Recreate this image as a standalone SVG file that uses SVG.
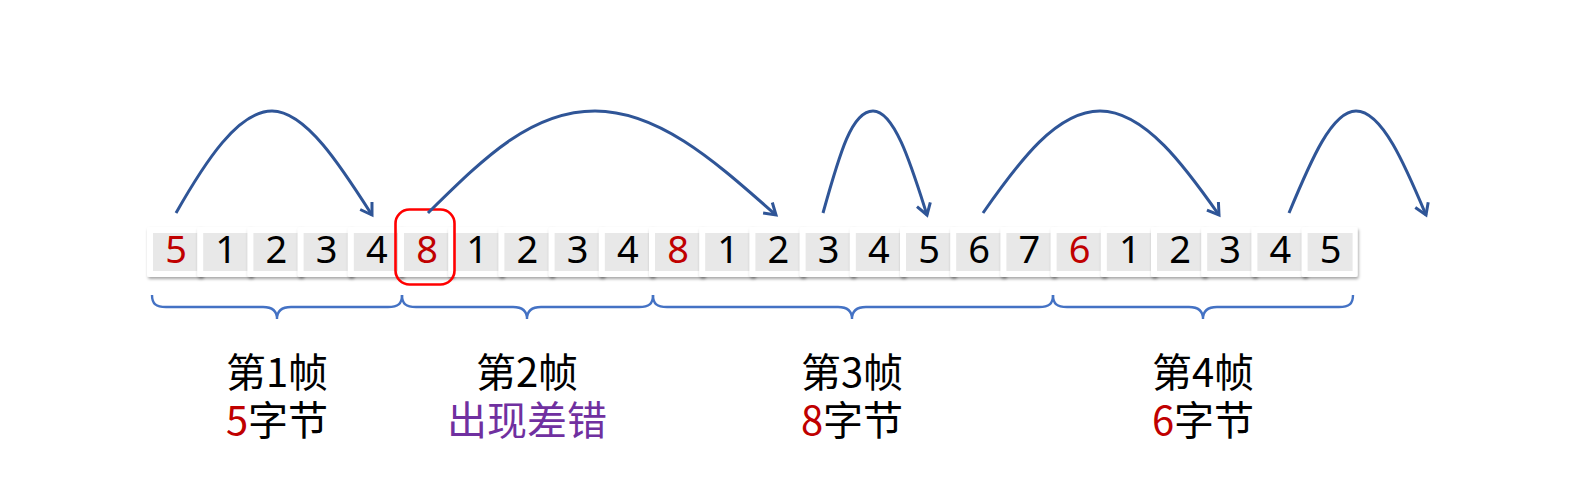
<svg xmlns="http://www.w3.org/2000/svg" width="1578" height="502" viewBox="0 0 1578 502">
<style>
.cell rect.o{fill:#fff;filter:url(#sh)}
.cell rect.i{fill:#e8e8e8}
.cell text{font-family:"Noto Sans","Open Sans","Liberation Sans",sans-serif;font-size:38px;text-anchor:middle;fill:#000}
.cell text.r{fill:#c00000}
.arc{fill:none;stroke:#2f5597;stroke-width:3;marker-end:url(#ah)}
.brace{fill:none;stroke:#4472c4;stroke-width:2.4}
.lbl{font-family:"Noto Sans CJK SC","Noto Sans",sans-serif;font-size:40px;text-anchor:middle;fill:#000}
.red{fill:#c00000}
.pur{fill:#7030a0}
</style>
<defs>
<filter id="sh" x="-20%" y="-20%" width="140%" height="150%">
<feDropShadow dx="1" dy="2" stdDeviation="1.6" flood-color="#000" flood-opacity="0.35"/>
</filter>
<marker id="ah" markerUnits="userSpaceOnUse" markerWidth="30" markerHeight="30" refX="15" refY="15" orient="auto" viewBox="0 0 30 30">
<path d="M4,8 L15,15 L4,22" fill="none" stroke="#2f5597" stroke-width="3" stroke-linejoin="miter"/>
</marker>
</defs>
<rect width="1578" height="502" fill="#fff"/>
<g id="cells">
<g class="cell" id="c0"><rect class="o" x="147" y="227" width="56" height="50" rx="2"/><rect class="i" x="153" y="233" width="45" height="38"/><text class="r" x="176" y="263">5</text></g>
<g class="cell" id="c1"><rect class="o" x="197.2" y="227" width="56" height="50" rx="2"/><rect class="i" x="203.2" y="233" width="45" height="38"/><text x="226.2" y="263">1</text></g>
<g class="cell" id="c2"><rect class="o" x="247.4" y="227" width="56" height="50" rx="2"/><rect class="i" x="253.4" y="233" width="45" height="38"/><text x="276.4" y="263">2</text></g>
<g class="cell" id="c3"><rect class="o" x="297.6" y="227" width="56" height="50" rx="2"/><rect class="i" x="303.6" y="233" width="45" height="38"/><text x="326.6" y="263">3</text></g>
<g class="cell" id="c4"><rect class="o" x="347.8" y="227" width="56" height="50" rx="2"/><rect class="i" x="353.8" y="233" width="45" height="38"/><text x="376.8" y="263">4</text></g>
<g class="cell" id="c5"><rect class="o" x="398" y="227" width="56" height="50" rx="2"/><rect class="i" x="404" y="233" width="45" height="38"/><text class="r" x="427" y="263">8</text></g>
<g class="cell" id="c6"><rect class="o" x="448.2" y="227" width="56" height="50" rx="2"/><rect class="i" x="454.2" y="233" width="45" height="38"/><text x="477.2" y="263">1</text></g>
<g class="cell" id="c7"><rect class="o" x="498.4" y="227" width="56" height="50" rx="2"/><rect class="i" x="504.4" y="233" width="45" height="38"/><text x="527.4" y="263">2</text></g>
<g class="cell" id="c8"><rect class="o" x="548.6" y="227" width="56" height="50" rx="2"/><rect class="i" x="554.6" y="233" width="45" height="38"/><text x="577.6" y="263">3</text></g>
<g class="cell" id="c9"><rect class="o" x="598.8" y="227" width="56" height="50" rx="2"/><rect class="i" x="604.8" y="233" width="45" height="38"/><text x="627.8" y="263">4</text></g>
<g class="cell" id="c10"><rect class="o" x="649" y="227" width="56" height="50" rx="2"/><rect class="i" x="655" y="233" width="45" height="38"/><text class="r" x="678" y="263">8</text></g>
<g class="cell" id="c11"><rect class="o" x="699.2" y="227" width="56" height="50" rx="2"/><rect class="i" x="705.2" y="233" width="45" height="38"/><text x="728.2" y="263">1</text></g>
<g class="cell" id="c12"><rect class="o" x="749.4" y="227" width="56" height="50" rx="2"/><rect class="i" x="755.4" y="233" width="45" height="38"/><text x="778.4" y="263">2</text></g>
<g class="cell" id="c13"><rect class="o" x="799.6" y="227" width="56" height="50" rx="2"/><rect class="i" x="805.6" y="233" width="45" height="38"/><text x="828.6" y="263">3</text></g>
<g class="cell" id="c14"><rect class="o" x="849.8" y="227" width="56" height="50" rx="2"/><rect class="i" x="855.8" y="233" width="45" height="38"/><text x="878.8" y="263">4</text></g>
<g class="cell" id="c15"><rect class="o" x="900" y="227" width="56" height="50" rx="2"/><rect class="i" x="906" y="233" width="45" height="38"/><text x="929" y="263">5</text></g>
<g class="cell" id="c16"><rect class="o" x="950.2" y="227" width="56" height="50" rx="2"/><rect class="i" x="956.2" y="233" width="45" height="38"/><text x="979.2" y="263">6</text></g>
<g class="cell" id="c17"><rect class="o" x="1000.4" y="227" width="56" height="50" rx="2"/><rect class="i" x="1006.4" y="233" width="45" height="38"/><text x="1029.4" y="263">7</text></g>
<g class="cell" id="c18"><rect class="o" x="1050.6" y="227" width="56" height="50" rx="2"/><rect class="i" x="1056.6" y="233" width="45" height="38"/><text class="r" x="1079.6" y="263">6</text></g>
<g class="cell" id="c19"><rect class="o" x="1100.8" y="227" width="56" height="50" rx="2"/><rect class="i" x="1106.8" y="233" width="45" height="38"/><text x="1129.8" y="263">1</text></g>
<g class="cell" id="c20"><rect class="o" x="1151" y="227" width="56" height="50" rx="2"/><rect class="i" x="1157" y="233" width="45" height="38"/><text x="1180" y="263">2</text></g>
<g class="cell" id="c21"><rect class="o" x="1201.2" y="227" width="56" height="50" rx="2"/><rect class="i" x="1207.2" y="233" width="45" height="38"/><text x="1230.2" y="263">3</text></g>
<g class="cell" id="c22"><rect class="o" x="1251.4" y="227" width="56" height="50" rx="2"/><rect class="i" x="1257.4" y="233" width="45" height="38"/><text x="1280.4" y="263">4</text></g>
<g class="cell" id="c23"><rect class="o" x="1301.6" y="227" width="56" height="50" rx="2"/><rect class="i" x="1307.6" y="233" width="45" height="38"/><text x="1330.6" y="263">5</text></g>
</g>
<g id="highlight">
<rect x="395.5" y="209.5" width="59" height="75" rx="14" fill="none" stroke="#ff0000" stroke-width="2.6"/>
</g>
<g id="connectors">
<path class="arc" d="M176,213 C205,162 238,111 272,111 C306,111 342,168 372,215"/>
<path class="arc" d="M428,213 C482,160 530,111 595,111 C662,111 722,168 776,215"/>
<path class="arc" d="M823,213 C840,152 852,111 873,111 C895,111 912,168 927,215"/>
<path class="arc" d="M983,213 C1020,160 1057,111 1100,111 C1145,111 1186,168 1219,215"/>
<path class="arc" d="M1289,213 C1311,160 1332,111 1356,111 C1382,111 1405,165 1426,215"/>
</g>
<g id="braces">
<path class="brace" d="M152,295 C152,304 156,307 166,307 L263,307 C273,307 277,311 277,319 C277,311 281,307 291,307 L388,307 C398,307 402,304 402,295"/>
<path class="brace" d="M402,295 C402,304 406,307 416,307 L513,307 C523,307 527,311 527,319 C527,311 531,307 541,307 L639,307 C649,307 653,304 653,295"/>
<path class="brace" d="M653,295 C653,304 657,307 667,307 L838,307 C848,307 852,311 852,319 C852,311 856,307 866,307 L1039,307 C1049,307 1053,304 1053,295"/>
<path class="brace" d="M1053,295 C1053,304 1057,307 1067,307 L1189,307 C1199,307 1203,311 1203,319 C1203,311 1207,307 1217,307 L1339,307 C1349,307 1353,304 1353,295"/>
</g>
<g id="label1"><text class="lbl" x="277" y="387">第1帧</text><text class="lbl" x="277" y="435"><tspan class="red">5</tspan>字节</text></g>
<g id="label2"><text class="lbl" x="527" y="387">第2帧</text><text class="lbl pur" x="527" y="435">出现差错</text></g>
<g id="label3"><text class="lbl" x="852" y="387">第3帧</text><text class="lbl" x="852" y="435"><tspan class="red">8</tspan>字节</text></g>
<g id="label4"><text class="lbl" x="1203" y="387">第4帧</text><text class="lbl" x="1203" y="435"><tspan class="red">6</tspan>字节</text></g>
</svg>
